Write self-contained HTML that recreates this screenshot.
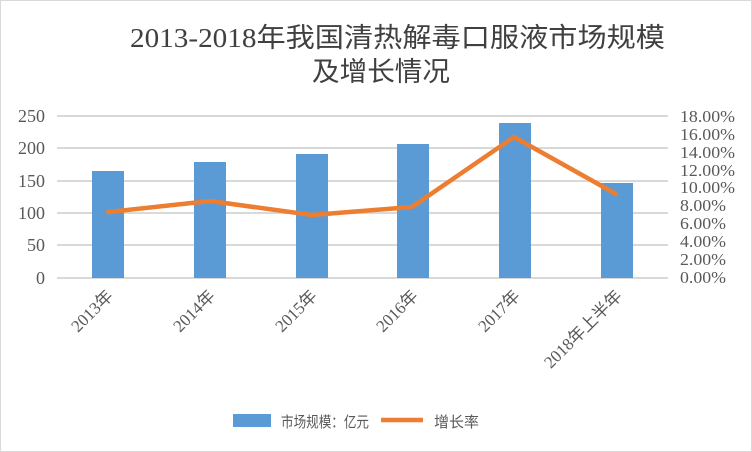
<!DOCTYPE html>
<html><head><meta charset="utf-8"><style>
body{margin:0;background:#fff}
svg{display:block;font-family:"Liberation Serif","Noto Sans CJK SC",sans-serif}
</style></head><body>
<svg width="752" height="452" viewBox="0 0 752 452">
<rect x="0.5" y="0.5" width="751" height="451" fill="#fff" stroke="#d9d9d9"/>
<text x="130" y="47" font-size="27" textLength="535" lengthAdjust="spacingAndGlyphs" fill="#404040">2013-2018年我国清热解毒口服液市场规模</text>
<text x="312" y="81" font-size="27" textLength="138" lengthAdjust="spacingAndGlyphs" fill="#404040">及增长情况</text>
<g stroke="#d9d9d9" stroke-width="2">
<line x1="57" y1="116" x2="668" y2="116"/><line x1="57" y1="148" x2="668" y2="148"/>
<line x1="57" y1="181" x2="668" y2="181"/><line x1="57" y1="213" x2="668" y2="213"/>
<line x1="57" y1="245" x2="668" y2="245"/><line x1="57" y1="278" x2="668" y2="278"/>
</g>
<g fill="#5b9bd5">
<rect x="92" y="171" width="32" height="107"/><rect x="194" y="162" width="32" height="116"/>
<rect x="296" y="154" width="32" height="124"/><rect x="397" y="144" width="32" height="134"/>
<rect x="499" y="123" width="32" height="155"/><rect x="601" y="183" width="32" height="95"/>
</g>
<polyline points="108,212 210,201 312,215 412,207 514,137 616,194" fill="none" stroke="#ed7d31" stroke-width="4.5" stroke-linejoin="round" stroke-linecap="round"/>
<g font-size="18" fill="#595959" text-anchor="end">
<text x="45" y="122">250</text><text x="45" y="154">200</text><text x="45" y="187">150</text>
<text x="45" y="219">100</text><text x="45" y="251">50</text><text x="45" y="284">0</text>
</g>
<g font-size="17" fill="#595959">
<text x="680" y="122" textLength="55" lengthAdjust="spacingAndGlyphs">18.00%</text><text x="680" y="140" textLength="55" lengthAdjust="spacingAndGlyphs">16.00%</text><text x="680" y="158" textLength="55" lengthAdjust="spacingAndGlyphs">14.00%</text>
<text x="680" y="176" textLength="55" lengthAdjust="spacingAndGlyphs">12.00%</text><text x="680" y="193" textLength="55" lengthAdjust="spacingAndGlyphs">10.00%</text><text x="680" y="211" textLength="46" lengthAdjust="spacingAndGlyphs">8.00%</text>
<text x="680" y="229" textLength="46" lengthAdjust="spacingAndGlyphs">6.00%</text><text x="680" y="247" textLength="46" lengthAdjust="spacingAndGlyphs">4.00%</text><text x="680" y="265" textLength="46" lengthAdjust="spacingAndGlyphs">2.00%</text>
<text x="680" y="283" textLength="46" lengthAdjust="spacingAndGlyphs">0.00%</text>
</g>
<g font-size="17" fill="#595959" text-anchor="end">
<text transform="translate(114,297) rotate(-45)">2013年</text>
<text transform="translate(216,297) rotate(-45)">2014年</text>
<text transform="translate(318,297) rotate(-45)">2015年</text>
<text transform="translate(419,297) rotate(-45)">2016年</text>
<text transform="translate(521,297) rotate(-45)">2017年</text>
<text transform="translate(623,297) rotate(-45)">2018年上半年</text>
</g>
<rect x="233" y="414" width="38" height="13" fill="#5b9bd5"/>
<text x="281" y="427" font-size="15" textLength="88" lengthAdjust="spacingAndGlyphs" fill="#595959">市场规模：亿元</text>
<line x1="381" y1="420" x2="423" y2="420" stroke="#ed7d31" stroke-width="4.5"/>
<text x="434" y="427" font-size="15" fill="#595959">增长率</text>
</svg>
</body></html>
